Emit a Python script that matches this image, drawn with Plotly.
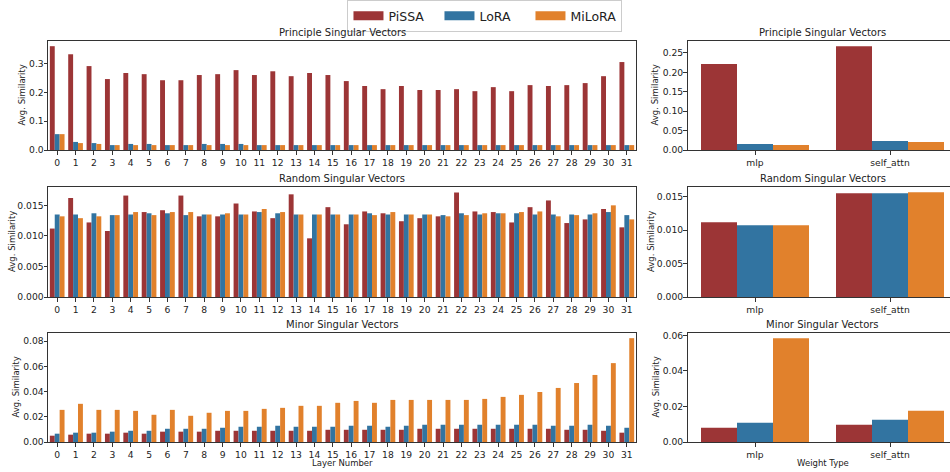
import plotly.graph_objects as go
from plotly.subplots import make_subplots

layers = [str(i) for i in range(32)]
weight_types = ["mlp", "self_attn"]
methods = ["PiSSA", "LoRA", "MiLoRA"]
colors = {"PiSSA": "#9c3536", "LoRA": "#3274a1", "MiLoRA": "#e1812c"}

# Principle singular vectors, per layer
principle_pissa = [0.360, 0.332, 0.291, 0.246, 0.267, 0.263, 0.242, 0.242, 0.260, 0.263, 0.277, 0.260,
                   0.273, 0.256, 0.267, 0.260, 0.239, 0.222, 0.211, 0.222, 0.208, 0.208, 0.211, 0.204,
                   0.218, 0.204, 0.225, 0.222, 0.225, 0.232, 0.256, 0.305]
principle_lora = [0.055, 0.028, 0.024, 0.017, 0.021, 0.021, 0.017, 0.017, 0.021, 0.021, 0.021, 0.017,
                  0.017, 0.017, 0.017, 0.017, 0.017, 0.017, 0.017, 0.017, 0.017, 0.017, 0.017, 0.017,
                  0.017, 0.017, 0.017, 0.017, 0.017, 0.017, 0.017, 0.017]
principle_milora = [0.055, 0.024, 0.021, 0.017, 0.017, 0.017, 0.017, 0.017, 0.017, 0.017, 0.017, 0.017,
                    0.017, 0.017, 0.017, 0.017, 0.017, 0.017, 0.017, 0.017, 0.017, 0.017, 0.017, 0.017,
                    0.017, 0.017, 0.017, 0.017, 0.017, 0.017, 0.017, 0.017]

# Random singular vectors, per layer
random_pissa = [0.0112, 0.0162, 0.0122, 0.0108, 0.0166, 0.0139, 0.0142, 0.0166, 0.0132, 0.0132, 0.0153, 0.0140,
                0.0129, 0.0168, 0.0096, 0.0147, 0.0119, 0.0140, 0.0137, 0.0124, 0.0129, 0.0132, 0.0171, 0.0140,
                0.0139, 0.0122, 0.0147, 0.0158, 0.0121, 0.0127, 0.0144, 0.0114]
random_lora = [0.0135, 0.0135, 0.0137, 0.0134, 0.0135, 0.0137, 0.0137, 0.0134, 0.0135, 0.0135, 0.0135, 0.0139,
               0.0137, 0.0135, 0.0135, 0.0135, 0.0135, 0.0137, 0.0135, 0.0135, 0.0135, 0.0134, 0.0137, 0.0135,
               0.0137, 0.0137, 0.0135, 0.0135, 0.0135, 0.0135, 0.0139, 0.0134]
random_milora = [0.0132, 0.0129, 0.0132, 0.0134, 0.0139, 0.0134, 0.0139, 0.0139, 0.0135, 0.0137, 0.0135, 0.0144,
                 0.0139, 0.0135, 0.0135, 0.0135, 0.0135, 0.0134, 0.0139, 0.0135, 0.0135, 0.0132, 0.0134, 0.0137,
                 0.0137, 0.0139, 0.0140, 0.0132, 0.0134, 0.0137, 0.0150, 0.0127]

# Minor singular vectors, per layer
minor_pissa = [0.0050, 0.0058, 0.0066, 0.0066, 0.0074, 0.0066, 0.0082, 0.0082, 0.0082, 0.0089, 0.0089, 0.0089,
               0.0089, 0.0089, 0.0089, 0.0097, 0.0097, 0.0097, 0.0097, 0.0097, 0.0105, 0.0105, 0.0105, 0.0105,
               0.0105, 0.0105, 0.0105, 0.0105, 0.0097, 0.0097, 0.0089, 0.0074]
minor_lora = [0.0066, 0.0074, 0.0074, 0.0082, 0.0089, 0.0089, 0.0105, 0.0105, 0.0105, 0.0113, 0.0121, 0.0121,
              0.0129, 0.0121, 0.0121, 0.0121, 0.0129, 0.0129, 0.0121, 0.0129, 0.0137, 0.0137, 0.0137, 0.0137,
              0.0137, 0.0137, 0.0137, 0.0129, 0.0129, 0.0137, 0.0129, 0.0113]
minor_milora = [0.0255, 0.0303, 0.0255, 0.0255, 0.0247, 0.0216, 0.0255, 0.0208, 0.0232, 0.0247, 0.0247, 0.0263,
                0.0271, 0.0287, 0.0287, 0.0311, 0.0326, 0.0311, 0.0334, 0.0334, 0.0334, 0.0334, 0.0334, 0.0342,
                0.0358, 0.0374, 0.0397, 0.0429, 0.0468, 0.0532, 0.0626, 0.0824]

# Per weight type
principle_type = {"PiSSA": [0.221, 0.267], "LoRA": [0.0154, 0.0231], "MiLoRA": [0.0128, 0.0205]}
random_type = {"PiSSA": [0.01119, 0.01555], "LoRA": [0.01074, 0.01555], "MiLoRA": [0.01074, 0.0157]}
minor_type = {"PiSSA": [0.0080, 0.0097], "LoRA": [0.0108, 0.0125], "MiLoRA": [0.0585, 0.0176]}

layer_data = [
    {"PiSSA": principle_pissa, "LoRA": principle_lora, "MiLoRA": principle_milora},
    {"PiSSA": random_pissa, "LoRA": random_lora, "MiLoRA": random_milora},
    {"PiSSA": minor_pissa, "LoRA": minor_lora, "MiLoRA": minor_milora},
]
type_data = [principle_type, random_type, minor_type]
titles = ["Principle Singular Vectors", "Random Singular Vectors", "Minor Singular Vectors"]

FONT = "DejaVu Sans"
TXT = "#222222"
W, H = 950, 472

fig = make_subplots(rows=3, cols=2)

for r in range(3):
    for m in methods:
        fig.add_trace(go.Bar(x=layers, y=layer_data[r][m], name=m, marker_color=colors[m],
                             marker_line_width=0, showlegend=False), row=r + 1, col=1)
        fig.add_trace(go.Bar(x=weight_types, y=type_data[r][m], name=m, marker_color=colors[m],
                             marker_line_width=0, showlegend=False), row=r + 1, col=2)

# legend-only entries (wide swatches like matplotlib patches)
for m in methods:
    fig.add_trace(go.Scatter(x=[None], y=[None], mode="lines", name=m,
                             line=dict(color=colors[m], width=9), showlegend=True), row=1, col=1)

# layout positions in pixels (top, bottom) for each row
rows_px = [(41, 150), (187, 297), (333, 442)]
left_px = (48, 636)
right_px = (687.5, 950)
ylabel_x_left = [22, 12, 15]
ylabel_x_right = [655, 651, 655]

yranges_left = [[0, 0.378], [0, 0.018], [0, 0.0865]]
yranges_right = [[0, 0.2805], [0, 0.01648], [0, 0.0614]]
ydt_left = [0.1, 0.005, 0.02]
ydt_right = [0.05, 0.005, 0.02]
yfmt_left = [".1f", ".3f", ".2f"]
yfmt_right = [".2f", ".3f", ".2f"]

axis_common = dict(showgrid=False, zeroline=False, showline=True, linecolor="#333333", linewidth=1,
                   ticks="outside", ticklen=3.5, tickwidth=0.8, tickcolor="#333333", automargin=False,
                   tickfont=dict(family=FONT, size=9.2, color=TXT))


def add_text(text, xpx, ypx, size, angle=0, xanchor="center", yanchor="middle"):
    fig.add_annotation(text=text, xref="paper", yref="paper", x=xpx / W, y=1 - ypx / H,
                       xanchor=xanchor, yanchor=yanchor, showarrow=False, textangle=angle,
                       font=dict(family=FONT, size=size, color=TXT))


for r in range(3):
    top, bot = rows_px[r]
    ydom = [1 - bot / H, 1 - top / H]
    il = 2 * r + 1
    ir = 2 * r + 2
    sl = "" if il == 1 else str(il)
    sr = str(ir)
    fig.layout["xaxis" + sl].update(domain=[left_px[0] / W, left_px[1] / W], range=[-0.5, 31.5],
                                   mirror=True, **axis_common)
    fig.layout["yaxis" + sl].update(domain=ydom, range=yranges_left[r], dtick=ydt_left[r],
                                   tickformat=yfmt_left[r], mirror=True, ticklabelstandoff=-2,
                                   **axis_common)
    # right panel extends past the figure edge (cropped)
    right_max = -0.5 + (right_px[1] - right_px[0]) / 135.0
    fig.layout["xaxis" + sr].update(domain=[right_px[0] / W, 1.0], range=[-0.5, right_max],
                                   mirror=True, **axis_common)
    fig.layout["yaxis" + sr].update(domain=ydom, range=yranges_right[r], dtick=ydt_right[r],
                                   tickformat=yfmt_right[r], mirror=False, ticklabelstandoff=-2,
                                   **axis_common)
    # panel titles
    add_text(titles[r], (left_px[0] + left_px[1]) / 2, top - 9, 10)
    add_text(titles[r], (right_px[0] + 957.5) / 2, top - 9, 10)
    # y-axis titles
    add_text("Avg. Similarity", ylabel_x_left[r], (top + bot) / 2, 8.5, angle=-90)
    add_text("Avg. Similarity", ylabel_x_right[r], (top + bot) / 2, 8.5, angle=-90)

add_text("Layer Number", (left_px[0] + left_px[1]) / 2, 463, 8.5)
add_text("Weight Type", (right_px[0] + 957.5) / 2, 463, 8.5)

fig.update_layout(
    width=W, height=H,
    margin=dict(l=0, r=0, t=0, b=0, autoexpand=False),
    barmode="group", bargap=0.2, bargroupgap=0,
    plot_bgcolor="white", paper_bgcolor="white",
    font=dict(family=FONT, color=TXT),
    legend=dict(orientation="h", x=0.5105, xanchor="center", y=1.0, yanchor="top",
                bordercolor="#cccccc", borderwidth=1, bgcolor="white",
                font=dict(family=FONT, size=12.5, color=TXT),
                entrywidth=46, itemwidth=30, tracegroupgap=0),
)

fig.write_html("out.html", config={"displayModeBar": False},
               post_script="document.body.style.margin='0';")
